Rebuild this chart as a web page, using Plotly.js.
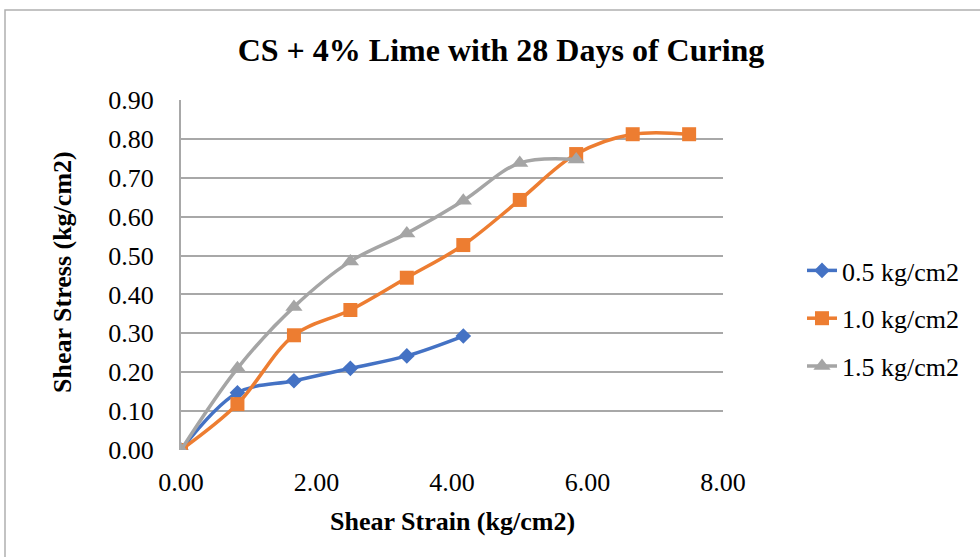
<!DOCTYPE html>
<html>
<head>
<meta charset="utf-8">
<script src="https://cdn.plot.ly/plotly-3.0.1.min.js"></script>
<style>html,body{margin:0;padding:0;background:#fff;}#chart{width:980px;height:557px;}</style>
</head>
<body>
<div id="chart"></div>
<script>
// Data
const strainA = [0, 0.833, 1.667, 2.5, 3.333, 4.167];
const stressA = [0, 0.147, 0.178, 0.210, 0.242, 0.293];

const strainB = [0, 0.833, 1.667, 2.5, 3.333, 4.167, 5.0, 5.833, 6.667, 7.5];
const stressB = [0, 0.118, 0.295, 0.360, 0.443, 0.527, 0.643, 0.761, 0.812, 0.812];

const strainC = [0, 0.833, 1.667, 2.5, 3.333, 4.167, 5.0, 5.833];
const stressC = [0, 0.210, 0.368, 0.485, 0.557, 0.641, 0.738, 0.747];

const seriesNames = ["0.5 kg/cm2", "1.0 kg/cm2", "1.5 kg/cm2"];
const xTickVals = [0, 2, 4, 6, 8];
const yTickVals = [0, 0.1, 0.2, 0.3, 0.4, 0.5, 0.6, 0.7, 0.8, 0.9];

const font = "Liberation Serif, Times New Roman, serif";

function trace(x, y, name, color, symbol, size, group) {
  return {
    x: x, y: y, name: name, type: "scatter", mode: "lines+markers",
    legendgroup: group,
    line: {color: color, width: 3.5, shape: "spline", smoothing: 1},
    marker: {color: color, symbol: symbol, size: size}
  };
}

const data = [
  trace(strainA, stressA, seriesNames[0], "#4472C4", "diamond", 12, "a"),
  trace(strainB, stressB, seriesNames[1], "#ED7D31", "square", 14, "b"),
  trace(strainC, stressC, seriesNames[2], "#A5A5A5", "triangle-up", 15, "c")
];

const L = 181, R = 723, T = 100, B = 450, W = 980, H = 557;
const pw = R - L, ph = B - T;
function px(x) { return (x - L) / pw; }
function py(y) { return (B - y) / ph; }

const layout = {
  width: W, height: H,
  margin: {l: L, r: W - R, t: T, b: H - B},
  paper_bgcolor: "#fff", plot_bgcolor: "#fff",
  font: {family: font, size: 26, color: "#000"},
  title: {
    text: "<b>CS + 4% Lime with 28 Days of Curing</b>",
    font: {family: font, size: 32, color: "#000"},
    x: 501 / W, xref: "container", xanchor: "center",
    y: 1 - 50 / H, yref: "container", yanchor: "middle"
  },
  xaxis: {
    range: [0, 8], tickvals: xTickVals, tickformat: ".2f",
    showgrid: false, zeroline: false, showline: false,
    ticks: "", ticklabelstandoff: 14,
    tickfont: {family: font, size: 26, color: "#000"}
  },
  yaxis: {
    range: [0, 0.9], tickvals: yTickVals, tickformat: ".2f",
    showgrid: true, gridcolor: "#a8a8a8", gridwidth: 2,
    zeroline: false, showline: true, linecolor: "#a8a8a8", linewidth: 2,
    ticks: "", ticklabelstandoff: 20,
    tickfont: {family: font, size: 26, color: "#000"}
  },
  showlegend: true,
  legend: {
    x: px(802), y: py(247), xanchor: "left", yanchor: "top",
    font: {family: font, size: 26, color: "#000"},
    tracegroupgap: 11, bgcolor: "rgba(0,0,0,0)"
  },
  annotations: [
    {text: "<b>Shear Strain (kg/cm2)</b>", xref: "paper", yref: "paper",
     x: px(452), y: py(521), showarrow: false, xanchor: "center", yanchor: "middle",
     font: {family: font, size: 26, color: "#000"}},
    {text: "<b>Shear Stress (kg/cm2)</b>", xref: "paper", yref: "paper",
     x: px(62), y: py(272), showarrow: false, xanchor: "center", yanchor: "middle",
     textangle: -90, font: {family: font, size: 26, color: "#000"}}
  ],
  shapes: [
    {type: "rect", xref: "paper", yref: "paper",
     x0: px(5), x1: px(995), y0: py(575), y1: py(10),
     line: {color: "#b0b0b0", width: 1.5}, fillcolor: "rgba(0,0,0,0)", layer: "below"}
  ]
};

Plotly.newPlot("chart", data, layout, {displayModeBar: false, staticPlot: true});
</script>
</body>
</html>
